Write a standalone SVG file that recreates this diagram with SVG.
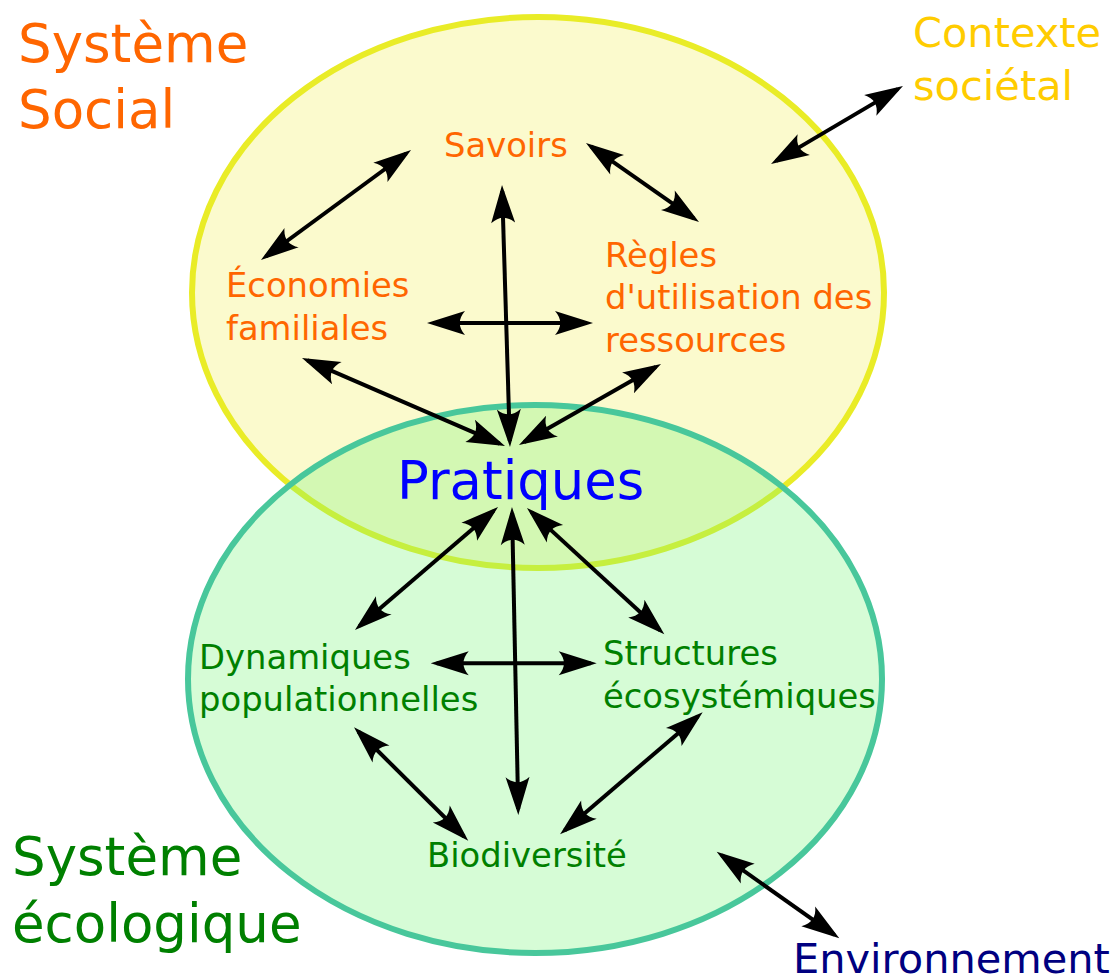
<svg xmlns="http://www.w3.org/2000/svg" width="1118" height="980" viewBox="0 0 1118 980">
  <style>
    text { font-family: "DejaVu Sans", "Liberation Sans", sans-serif; }
    .big { font-size: 53px; }
    .ctx { font-size: 41.5px; }
    .mid { font-size: 33.8px; }
    .orange { fill: #ff6600; }
    .green { fill: #008000; }
    .conn { fill: none; stroke: #000; stroke-width: 4; marker-start: url(#ah); marker-end: url(#ah); }
  </style>
  <defs>
    <marker id="ah" markerUnits="userSpaceOnUse" markerWidth="80" markerHeight="40" refX="0" refY="0" orient="auto-start-reverse" overflow="visible" viewBox="-40 -20 80 40">
      <path d="M6,0 L-32,-12 C-25,-4 -25,4 -32,12 Z" fill="#000"/>
    </marker>
  </defs>
  <rect width="1118" height="980" fill="#ffffff"/>

  <g id="social-system">
    <ellipse cx="538" cy="292.5" rx="346" ry="275.5" fill="#fbfacd" stroke="#e9ec27" stroke-width="6"/>
    <text class="big orange" x="18" y="62">Système</text>
    <text class="big orange" x="18" y="128">Social</text>
  </g>

  <g id="ecological-system">
    <ellipse cx="535" cy="679" rx="347" ry="274" fill="#76f576" fill-opacity="0.3" stroke="none"/>
    <ellipse cx="535" cy="679" rx="347" ry="274" fill="none" stroke="#48c79b" stroke-width="6"/>
    <text class="big green" x="12" y="875">Système</text>
    <text class="big green" x="12" y="942">écologique</text>
  </g>

  <g id="connectors">
    <line class="conn" x1="776.2" y1="160.9" x2="897.8" y2="89.1"/>
    <line class="conn" x1="406.2" y1="153.5" x2="265.8" y2="256.5"/>
    <line class="conn" x1="590.9" y1="146.4" x2="694.1" y2="218.6"/>
    <line class="conn" x1="502.2" y1="191" x2="509.8" y2="441"/>
    <line class="conn" x1="433" y1="323" x2="587" y2="323"/>
    <line class="conn" x1="307.5" y1="360.4" x2="499.5" y2="443.6"/>
    <line class="conn" x1="655.8" y1="367" x2="524.2" y2="442"/>
    <line class="conn" x1="493.5" y1="510.9" x2="359.5" y2="626.1"/>
    <line class="conn" x1="512.1" y1="513" x2="518.2" y2="809"/>
    <line class="conn" x1="531.4" y1="512.1" x2="659.9" y2="630.3"/>
    <line class="conn" x1="436.7" y1="663.3" x2="590.7" y2="663.3"/>
    <line class="conn" x1="358.3" y1="731.5" x2="464" y2="836.5"/>
    <line class="conn" x1="698.1" y1="716.2" x2="564.6" y2="830.4"/>
    <line class="conn" x1="721.6" y1="855.2" x2="834.4" y2="934.8"/>
  </g>

  <g id="contexte-societal">
    <text class="ctx" fill="#ffcc00" x="913" y="47">Contexte</text>
    <text class="ctx" fill="#ffcc00" x="913" y="100">sociétal</text>
  </g>
  <g id="savoirs">
    <text class="mid orange" x="444" y="157">Savoirs</text>
  </g>
  <g id="economies-familiales">
    <text class="mid orange" x="226" y="297">Économies</text>
    <text class="mid orange" x="226" y="340">familiales</text>
  </g>
  <g id="regles">
    <text class="mid orange" x="605" y="267">Règles</text>
    <text class="mid orange" x="605" y="309">d'utilisation des</text>
    <text class="mid orange" x="605" y="352">ressources</text>
  </g>
  <g id="pratiques">
    <text x="397" y="499" font-size="52.8" fill="#0000ff">Pratiques</text>
  </g>
  <g id="dynamiques">
    <text class="mid green" x="199" y="669">Dynamiques</text>
    <text class="mid green" x="199" y="711">populationnelles</text>
  </g>
  <g id="structures">
    <text class="mid green" x="603" y="665">Structures</text>
    <text class="mid green" x="603" y="708">écosystémiques</text>
  </g>
  <g id="biodiversite">
    <text class="mid green" x="427" y="867">Biodiversité</text>
  </g>
  <g id="environnement">
    <text class="ctx" fill="#000080" x="793" y="973">Environnement</text>
  </g>
</svg>
